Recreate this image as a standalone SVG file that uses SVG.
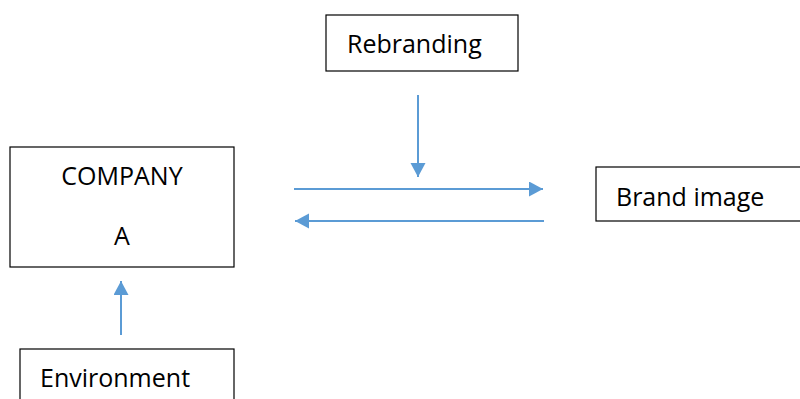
<svg xmlns="http://www.w3.org/2000/svg" width="800" height="399" viewBox="0 0 800 399">
  <style>
    .box { fill: #ffffff; stroke: #000000; stroke-width: 1.2; }
    .lbl { font-family: "Open Sans", "Liberation Sans", sans-serif; font-size: 25px; fill: #000000; }
    .conn { stroke: #5B9BD5; stroke-width: 2; fill: none; marker-end: url(#head); }
  </style>
  <defs>
    <marker id="head" markerUnits="userSpaceOnUse" markerWidth="16" markerHeight="16" refX="14" refY="7.5" orient="auto">
      <path d="M0,0 L14,7.5 L0,15 Z" fill="#5B9BD5"/>
    </marker>
  </defs>
  <rect width="800" height="399" fill="#ffffff"/>

  <g id="rebranding">
    <rect class="box" x="326" y="15" width="192" height="56"/>
    <text class="lbl" x="347" y="53">Rebranding</text>
  </g>

  <g id="company">
    <rect class="box" x="10" y="147" width="224" height="120"/>
    <text class="lbl" x="122" y="185" text-anchor="middle">COMPANY</text>
    <text class="lbl" x="122" y="245" text-anchor="middle">A</text>
  </g>

  <g id="brand-image">
    <rect class="box" x="596" y="167" width="220" height="54"/>
    <text class="lbl" x="616" y="206">Brand image</text>
  </g>

  <g id="environment">
    <rect class="box" x="20" y="349" width="214" height="70"/>
    <text class="lbl" x="40" y="387">Environment</text>
  </g>

  <g id="connectors">
    <line class="conn" x1="418" y1="95" x2="418" y2="177"/>
    <line class="conn" x1="294" y1="189" x2="543" y2="189"/>
    <line class="conn" x1="544" y1="221" x2="295" y2="221"/>
    <line class="conn" x1="121" y1="335" x2="121" y2="281"/>
  </g>
</svg>
